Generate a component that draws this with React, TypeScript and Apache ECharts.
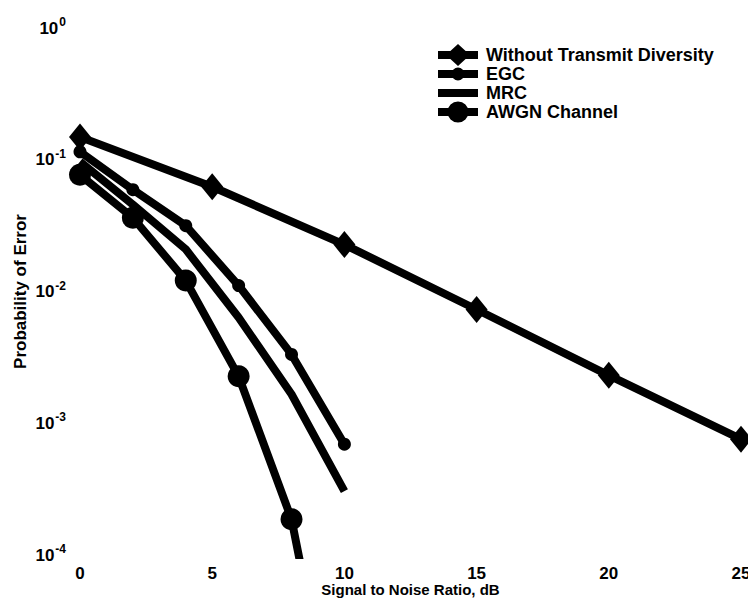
import React, { useEffect, useRef } from "react";
import * as echarts from "echarts";

const snrDiv = [0, 2, 4, 6, 8, 10];
const snrNoDiv = [0, 5, 10, 15, 20, 25];
const noDiversity = [0.149, 0.0624, 0.0227, 0.0073, 0.00231, 0.000757];
const egc = [0.115, 0.0593, 0.0316, 0.0111, 0.00333, 0.000693];
const mrc = [0.0966, 0.0457, 0.0209, 0.00635, 0.00166, 0.000305];
const awgn = [0.0769, 0.0363, 0.0121, 0.00227, 0.000187, 0.0000018];
const xTicks = [0, 5, 10, 15, 20, 25];
const seriesNames = ["Without Transmit Diversity", "EGC", "MRC", "AWGN Channel"];

const FONT = "Liberation Sans";

const corners = "M0 0 L0.01 0 L0 0.01 Z M40 22 L39.99 22 L40 21.99 Z ";
const bar = "M0 7 L40 7 L40 15 L0 15 Z ";
const circ = (r: number) =>
  `M${20 - r} 11 A${r} ${r} 0 1 1 ${20 + r} 11 A${r} ${r} 0 1 1 ${20 - r} 11 Z `;
const legendIcons = [
  "path://" + corners + bar + "M20 0 L32 11 L20 22 L8 11 Z",
  "path://" + corners + bar + circ(6.5),
  "path://" + corners + bar,
  "path://" + corners + bar + circ(10.5),
];

export default function App() {
  const ref = useRef<HTMLDivElement>(null);
  useEffect(() => {
    if (!ref.current) return;
    const chart = echarts.init(ref.current, null, { renderer: "svg" });
    const pair = (xs: number[], ys: number[]) => xs.map((x, i) => [x, ys[i]]);
    const lineBase = { color: "#000", width: 8 };
    chart.setOption({
      animation: false,
      backgroundColor: "#fff",
      grid: { left: 72, right: 15, top: 20, bottom: 60, outerBoundsMode: "none", containLabel: false },
      legend: {
        left: 425,
        top: 31,
        orient: "vertical",
        itemWidth: 40,
        itemHeight: 22,
        itemGap: -3,
        data: seriesNames.map((n, i) => ({ name: n, icon: legendIcons[i] })),
        textStyle: { fontFamily: FONT, fontSize: 18, fontWeight: "bold", color: "#000", padding: [0, 0, 0, 3] },
      },
      xAxis: {
        type: "value",
        min: 0,
        max: 25,
        interval: 5,
        name: "Signal to Noise Ratio, dB",
        nameLocation: "middle",
        nameGap: 27,
        nameMoveOverlap: false,
        nameTextStyle: { fontFamily: FONT, fontSize: 15, lineHeight: 15, fontWeight: "bold", color: "#000" },
        axisLine: { show: false },
        axisTick: { show: false },
        splitLine: { show: false },
        axisLabel: {
          fontFamily: FONT,
          fontSize: 17,
          lineHeight: 16,
          fontWeight: "bold",
          color: "#000",
          margin: 10,
          formatter: (v: number) => (xTicks.includes(v) ? String(v) : ""),
        },
      },
      yAxis: {
        type: "log",
        logBase: 10,
        min: 1e-4,
        max: 1,
        name: "Probability of Error",
        nameLocation: "middle",
        nameGap: 51,
        nameMoveOverlap: false,
        nameTextStyle: { fontFamily: FONT, fontSize: 17, fontWeight: "bold", color: "#000" },
        axisLine: { show: false },
        axisTick: { show: false },
        splitLine: { show: false },
        axisLabel: {
          margin: 14,
          formatter: (v: number) => `{b|10}{s|${Math.round(Math.log10(v))}}`,
          rich: {
            b: { fontFamily: FONT, fontSize: 17, fontWeight: "bold", color: "#000", lineHeight: 24 },
            s: { fontFamily: FONT, fontSize: 12, fontWeight: "bold", color: "#000", verticalAlign: "top", lineHeight: 12, padding: [0, 0, 0, 1] },
          },
        },
      },
      series: [
        {
          name: seriesNames[0],
          type: "line",
          data: pair(snrNoDiv, noDiversity),
          symbol: "diamond",
          symbolSize: [22, 27],
          itemStyle: { color: "#000" },
          lineStyle: lineBase,
        },
        {
          name: seriesNames[1],
          type: "line",
          data: pair(snrDiv, egc),
          symbol: "circle",
          symbolSize: 13,
          itemStyle: { color: "#000" },
          lineStyle: lineBase,
        },
        {
          name: seriesNames[2],
          type: "line",
          data: pair(snrDiv, mrc),
          symbol: "none",
          itemStyle: { color: "#000" },
          lineStyle: lineBase,
        },
        {
          name: seriesNames[3],
          type: "line",
          data: pair(snrDiv, awgn),
          symbol: "circle",
          symbolSize: 22,
          itemStyle: { color: "#000" },
          lineStyle: lineBase,
        },
      ],
    });
    return () => chart.dispose();
  }, []);
  return <div ref={ref} style={{ width: 748, height: 607 }} />;
}
